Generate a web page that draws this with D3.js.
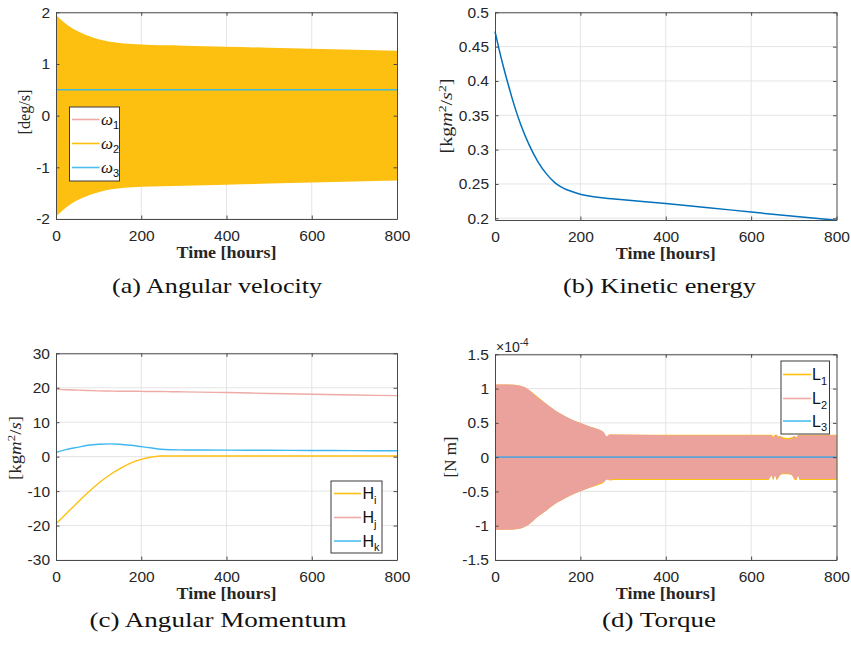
<!DOCTYPE html>
<html>
<head>
<meta charset="utf-8">
<script src="https://cdn.jsdelivr.net/npm/d3@7"></script>
<style>
  body { margin: 0; background: #fff; }
  svg { display: block; }
</style>
</head>
<body>
<svg id="fig" width="851" height="646"></svg>
<script>
// ---------- data ----------
const timeTicks = [0, 200, 400, 600, 800];

// (a) angular velocity [deg/s]: envelope of the fast ω2 oscillation, ω1/ω3 levels
const omegaTime   = [0, 20, 40, 60, 80, 100, 120, 140, 160, 180, 200, 300, 400, 500, 600, 700, 800];
const omega2Upper = [1.95, 1.80, 1.68, 1.60, 1.53, 1.48, 1.44, 1.415, 1.395, 1.385, 1.375, 1.355, 1.335, 1.315, 1.295, 1.275, 1.255];
const omega2Lower = [-1.95, -1.80, -1.68, -1.60, -1.53, -1.48, -1.44, -1.415, -1.395, -1.385, -1.375, -1.355, -1.335, -1.315, -1.295, -1.275, -1.255];
const omegaLineTime = [0, 800];
const omega1 = [0.5, 0.5];
const omega3 = [0.5, 0.5];
const omegaTicks = [-2, -1, 0, 1, 2];

// (b) kinetic energy [kg m^2/s^2]
const energyTime = [0, 10, 20, 30, 40, 50, 60, 80, 100, 120, 140, 160, 180, 200, 250, 300, 400, 500, 600, 700, 800];
const energy     = [0.472, 0.445, 0.42, 0.397, 0.375, 0.355, 0.337, 0.307, 0.283, 0.265, 0.252, 0.244, 0.239, 0.235, 0.230, 0.227, 0.2215, 0.2155, 0.209, 0.203, 0.197];
const energyTicks = [0.2, 0.25, 0.3, 0.35, 0.4, 0.45, 0.5];

// (c) angular momentum [kg m^2/s]
const momentumTime = [0, 25, 50, 75, 100, 125, 150, 175, 200, 225, 245, 270, 300, 400, 500, 600, 700, 800];
const Hi = [-19.5, -16.4, -13.4, -10.4, -7.7, -5.4, -3.5, -1.9, -0.8, -0.1, 0.2, 0.2, 0.2, 0.2, 0.2, 0.2, 0.2, 0.2];
const Hj = [19.6, 19.4, 19.3, 19.2, 19.1, 19.05, 19.0, 19.0, 18.95, 18.9, 18.9, 18.85, 18.8, 18.6, 18.35, 18.1, 17.9, 17.7];
const Hk = [1.2, 2.1, 2.7, 3.3, 3.6, 3.7, 3.6, 3.3, 2.9, 2.5, 2.15, 2.0, 1.95, 1.9, 1.85, 1.8, 1.75, 1.7];
const momentumTicks = [-30, -20, -10, 0, 10, 20, 30];

// (d) torque, in units of 1e-4 N m: envelopes of the oscillating L1/L2 components
const torqueTime = [0, 30, 60, 80, 100, 120, 144, 170, 199, 220, 240, 255, 262, 268, 280, 400, 600, 640, 648, 652, 656, 660, 664, 668, 675, 685, 695, 702, 706, 710, 714, 720, 800];
const L2Upper = [1.06, 1.06, 1.04, 0.98, 0.87, 0.78, 0.67, 0.58, 0.50, 0.45, 0.41, 0.36, 0.30, 0.33, 0.33, 0.32, 0.32, 0.32, 0.32, 0.27, 0.32, 0.32, 0.28, 0.31, 0.27, 0.26, 0.27, 0.31, 0.27, 0.32, 0.32, 0.32, 0.32];
const L2Lower = [-1.06, -1.06, -1.04, -0.98, -0.87, -0.78, -0.67, -0.58, -0.50, -0.45, -0.40, -0.36, -0.33, -0.33, -0.32, -0.32, -0.32, -0.32, -0.27, -0.32, -0.27, -0.32, -0.30, -0.26, -0.24, -0.24, -0.26, -0.31, -0.32, -0.27, -0.32, -0.32, -0.32];
const L1Upper = [1.06, 1.06, 1.04, 0.98, 0.88, 0.78, 0.67, 0.58, 0.50, 0.45, 0.41, 0.36, 0.30, 0.33, 0.33, 0.325, 0.325, 0.325, 0.325, 0.30, 0.325, 0.325, 0.30, 0.31, 0.29, 0.28, 0.29, 0.31, 0.29, 0.325, 0.325, 0.325, 0.325];
const L1Lower = [-1.06, -1.06, -1.04, -0.98, -0.87, -0.78, -0.67, -0.58, -0.50, -0.45, -0.41, -0.37, -0.31, -0.34, -0.335, -0.335, -0.335, -0.335, -0.27, -0.335, -0.26, -0.335, -0.30, -0.26, -0.25, -0.25, -0.26, -0.33, -0.335, -0.27, -0.335, -0.335, -0.335];
const L3Time = [0, 800];
const L3 = [0, 0];
const torqueTicks = [-1.5, -1, -0.5, 0, 0.5, 1, 1.5];

// ---------- styling ----------
const YELLOW = '#FDC010';
const PINK = '#EBA29C';
const PINK_LINE = '#EEAAA6';
const BLUE = '#4DBEEE';
const DARK_BLUE = '#0072BD';
const SANS = '"Liberation Sans", Arial, Helvetica, sans-serif';
const SERIF = '"Liberation Serif", "Times New Roman", serif';

const svg = d3.select('#fig');

function rows(t, ...cols) {
  return t.map((v, i) => ({ t: v, c: cols.map(c => c[i]) }));
}

function makePanel(cfg) {
  const g = svg.append('g');
  const x = d3.scaleLinear().domain([0, 800]).range([cfg.left, cfg.right]);
  const y = d3.scaleLinear().domain(cfg.yDomain).range([cfg.bottom, cfg.top]);

  // grid
  g.append('g').selectAll('line').data(timeTicks.slice(1, -1)).join('line')
    .attr('x1', d => x(d)).attr('x2', d => x(d))
    .attr('y1', cfg.top).attr('y2', cfg.bottom)
    .attr('stroke', '#e4e4e4').attr('stroke-width', 1);
  g.append('g').selectAll('line').data(cfg.yTicks).join('line')
    .attr('x1', cfg.left).attr('x2', cfg.right)
    .attr('y1', d => y(d)).attr('y2', d => y(d))
    .attr('stroke', '#e4e4e4').attr('stroke-width', 1);

  const dataLayer = g.append('g');
  const axisLayer = g.append('g');

  const fmt = cfg.fmt || (d => String(d));
  const styleAxis = sel => {
    sel.selectAll('.domain').attr('stroke', '#4a4a4a').attr('stroke-width', 1);
    sel.selectAll('.tick line').attr('stroke', '#4a4a4a').attr('stroke-width', 1);
    sel.selectAll('.tick text').attr('fill', '#262626')
      .style('font-family', SANS).style('font-size', '15.5px');
  };
  axisLayer.append('g').attr('transform', `translate(0,${cfg.bottom})`)
    .call(d3.axisBottom(x).tickValues(timeTicks).tickSize(-3.5).tickSizeOuter(0).tickPadding(11).tickFormat(d => String(d)))
    .call(styleAxis);
  axisLayer.append('g').attr('transform', `translate(0,${cfg.top})`)
    .call(d3.axisTop(x).tickValues(timeTicks).tickSize(-3.5).tickSizeOuter(0).tickFormat(''))
    .call(styleAxis);
  axisLayer.append('g').attr('transform', `translate(${cfg.left},0)`)
    .call(d3.axisLeft(y).tickValues(cfg.yTicks).tickSize(-3.5).tickSizeOuter(0).tickPadding(6).tickFormat(fmt))
    .call(styleAxis);
  axisLayer.append('g').attr('transform', `translate(${cfg.right},0)`)
    .call(d3.axisRight(y).tickValues(cfg.yTicks).tickSize(-3.5).tickSizeOuter(0).tickFormat(''))
    .call(styleAxis);
  axisLayer.selectAll('text').attr('font-family', null);

  // x label
  g.append('text')
    .attr('x', (cfg.left + cfg.right) / 2).attr('y', cfg.bottom + 39)
    .attr('text-anchor', 'middle')
    .style('font-family', SERIF).style('font-size', '16px').style('font-weight', 'bold')
    .attr('fill', '#262626')
    .attr('textLength', 100).attr('lengthAdjust', 'spacingAndGlyphs')
    .text('Time [hours]');

  // y label
  const yl = g.append('text')
    .attr('transform', `translate(${cfg.yLabelX},${cfg.yLabelY}) rotate(-90)`)
    .attr('text-anchor', 'middle')
    .style('font-family', SERIF).style('font-size', '16px')
    .attr('fill', '#262626');
  cfg.yLabel(yl);
  if (cfg.yLabelLen) yl.attr('textLength', cfg.yLabelLen).attr('lengthAdjust', 'spacingAndGlyphs');

  // caption
  g.append('text')
    .attr('x', cfg.capX).attr('y', cfg.capY)
    .attr('text-anchor', 'middle')
    .style('font-family', SERIF).style('font-size', '21px')
    .attr('fill', '#111')
    .attr('textLength', cfg.capLen).attr('lengthAdjust', 'spacingAndGlyphs')
    .text(cfg.caption);

  return { g, x, y, dataLayer };
}

function band(p, t, lo, hi, color) {
  const area = d3.area()
    .x(d => p.x(d.t)).y0(d => p.y(d.c[0])).y1(d => p.y(d.c[1]))
    .curve(d3.curveMonotoneX);
  p.dataLayer.append('path').datum(rows(t, lo, hi))
    .attr('d', area).attr('fill', color).attr('stroke', 'none');
}

function line(p, t, v, color, w) {
  const ln = d3.line()
    .x(d => p.x(d.t)).y(d => p.y(d.c[0]))
    .curve(d3.curveMonotoneX);
  p.dataLayer.append('path').datum(rows(t, v))
    .attr('d', ln).attr('fill', 'none').attr('stroke', color).attr('stroke-width', w);
}

function legend(p, box, entries) {
  const lg = p.g.append('g');
  lg.append('rect')
    .attr('x', box.x).attr('y', box.y).attr('width', box.w).attr('height', box.h)
    .attr('fill', '#fff').attr('stroke', '#3a3a3a').attr('stroke-width', 1);
  entries.forEach((e, i) => {
    const yy = box.rowY[i];
    lg.append('line')
      .attr('x1', box.lineX0).attr('x2', box.lineX1).attr('y1', yy).attr('y2', yy)
      .attr('stroke', e.color).attr('stroke-width', 1.6);
    const tx = lg.append('text')
      .attr('x', box.textX).attr('y', yy + box.baseDy)
      .attr('fill', '#111');
    tx.append('tspan')
      .style('font-family', e.italic ? SERIF : SANS)
      .style('font-style', e.italic ? 'italic' : 'normal')
      .style('font-size', box.fontSize + 'px')
      .text(e.label);
    tx.append('tspan')
      .attr('dy', box.subDy)
      .style('font-family', SANS).style('font-size', '11px')
      .text(e.sub);
  });
}

// ---------- (a) Angular velocity ----------
const pa = makePanel({
  left: 56, right: 397, top: 12.3, bottom: 219,
  yDomain: [-2, 2], yTicks: omegaTicks,
  yLabelX: 30, yLabelY: 112, yLabelLen: 45,
  yLabel: t => t.text('[deg/s]'),
  caption: '(a) Angular velocity', capX: 217, capY: 293, capLen: 210
});
line(pa, omegaLineTime, omega1, PINK, 1.4);
band(pa, omegaTime, omega2Lower, omega2Upper, YELLOW);
line(pa, omegaLineTime, omega3, '#45B7D6', 1.4);
legend(pa, {
  x: 69.5, y: 107, w: 50, h: 74, rowY: [119.5, 143.5, 167.5],
  lineX0: 72, lineX1: 99.5, textX: 101, baseDy: 5, subDy: 4, fontSize: 17
}, [
  { label: 'ω', sub: '1', color: PINK_LINE, italic: true },
  { label: 'ω', sub: '2', color: YELLOW, italic: true },
  { label: 'ω', sub: '3', color: BLUE, italic: true }
]);

// ---------- (b) Kinetic energy ----------
const pb = makePanel({
  left: 495, right: 836.5, top: 12.3, bottom: 220,
  yDomain: [0.1975, 0.5], yTicks: energyTicks,
  fmt: d => String(+d.toFixed(2)),
  yLabelX: 452, yLabelY: 116, yLabelLen: 75,
  yLabel: t => {
    t.append('tspan').text('[kg');
    t.append('tspan').style('font-style', 'italic').text('m');
    t.append('tspan').attr('dy', -6).style('font-size', '11px').text('2');
    t.append('tspan').attr('dy', 6).text('/');
    t.append('tspan').style('font-style', 'italic').text('s');
    t.append('tspan').attr('dy', -6).style('font-size', '11px').text('2');
    t.append('tspan').attr('dy', 6).text(']');
  },
  caption: '(b) Kinetic energy', capX: 659.5, capY: 293, capLen: 193
});
line(pb, energyTime, energy, DARK_BLUE, 1.5);

// ---------- (c) Angular Momentum ----------
const pc = makePanel({
  left: 56, right: 397, top: 353.3, bottom: 560,
  yDomain: [-30, 30], yTicks: momentumTicks,
  yLabelX: 21, yLabelY: 448, yLabelLen: 64,
  yLabel: t => {
    t.append('tspan').text('[kg');
    t.append('tspan').style('font-style', 'italic').text('m');
    t.append('tspan').attr('dy', -6).style('font-size', '11px').text('2');
    t.append('tspan').attr('dy', 6).text('/');
    t.append('tspan').style('font-style', 'italic').text('s');
    t.append('tspan').text(']');
  },
  caption: '(c) Angular Momentum', capX: 218, capY: 627, capLen: 257
});
line(pc, momentumTime, Hi, YELLOW, 1.4);
line(pc, momentumTime, Hj, PINK_LINE, 1.4);
line(pc, momentumTime, Hk, '#3FB8F2', 1.4);
legend(pc, {
  x: 331, y: 481, w: 51, h: 72, rowY: [493.5, 517.5, 541],
  lineX0: 334, lineX1: 361, textX: 362.5, baseDy: 5.5, subDy: 4.5, fontSize: 16
}, [
  { label: 'H', sub: 'i', color: YELLOW },
  { label: 'H', sub: 'j', color: PINK_LINE },
  { label: 'H', sub: 'k', color: BLUE }
]);

// ---------- (d) Torque ----------
const pd = makePanel({
  left: 495, right: 836.5, top: 354.3, bottom: 560,
  yDomain: [-1.5, 1.5], yTicks: torqueTicks,
  yLabelX: 456, yLabelY: 457, yLabelLen: 41,
  yLabel: t => t.text('[N m]'),
  caption: '(d) Torque', capX: 659, capY: 627, capLen: 114
});
band(pd, torqueTime, L1Lower, L1Upper, YELLOW);
band(pd, torqueTime, L2Lower, L2Upper, PINK);
line(pd, L3Time, L3, '#5BA3D6', 1.6);
legend(pd, {
  x: 781, y: 361, w: 48.5, h: 73, rowY: [374.5, 398.5, 421],
  lineX0: 783, lineX1: 811, textX: 812, baseDy: 5.5, subDy: 4.5, fontSize: 16
}, [
  { label: 'L', sub: '1', color: YELLOW },
  { label: 'L', sub: '2', color: PINK_LINE },
  { label: 'L', sub: '3', color: BLUE }
]);
// exponent of the torque axis
const ex = pd.g.append('text')
  .attr('x', 496).attr('y', 351.5)
  .style('font-family', SANS).style('font-size', '14px').attr('fill', '#262626');
ex.append('tspan').text('×10');
ex.append('tspan').attr('dy', -6).style('font-size', '10px').text('-4');
</script>
</body>
</html>
